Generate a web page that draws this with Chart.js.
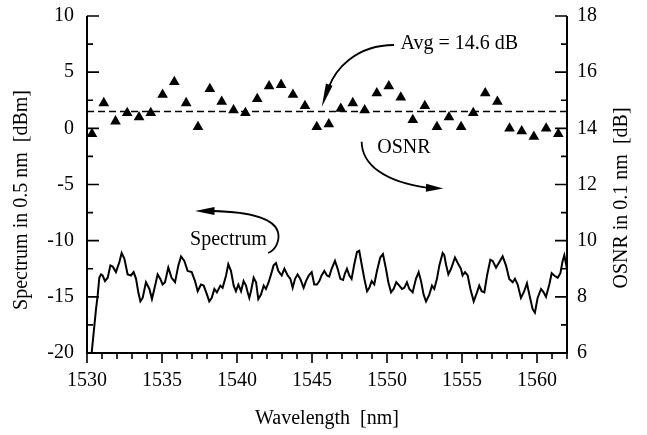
<!DOCTYPE html>
<html lang="en">
<head>
<meta charset="UTF-8">
<title>Spectrum and OSNR</title>
<script src="https://cdn.jsdelivr.net/npm/chart.js"></script>
<style>
  body { margin: 0; background: #fff; }
</style>
</head>
<body>
<canvas id="chart" width="647" height="435"></canvas>
<script>
// channel wavelengths (nm) and measured OSNR (dB, right axis)
const channelNm = [1530.33, 1531.12, 1531.90, 1532.68, 1533.47, 1534.25, 1535.04, 1535.82, 1536.61, 1537.40,
                   1538.19, 1538.98, 1539.77, 1540.56, 1541.35, 1542.14, 1542.94, 1543.73, 1544.53, 1545.32,
                   1546.12, 1546.92, 1547.72, 1548.51, 1549.32, 1550.12, 1550.92, 1551.72, 1552.52, 1553.33,
                   1554.13, 1554.94, 1555.75, 1556.55, 1557.36, 1558.17, 1558.98, 1559.79, 1560.61, 1561.42];
const osnrDb = [13.8, 14.9, 14.25, 14.55, 14.4, 14.55, 15.2, 15.65, 14.9, 14.05,
                15.4, 14.95, 14.65, 14.55, 15.05, 15.5, 15.55, 15.2, 14.8, 14.05,
                14.15, 14.7, 14.9, 14.65, 15.25, 15.5, 15.1, 14.3, 14.8, 14.05,
                14.4, 14.05, 14.55, 15.25, 14.95, 14.0, 13.9, 13.7, 14.0, 13.8];
const avgOsnr = 14.6;

// spectrum in 0.5 nm (dBm, left axis)
const specNm = [1530.31, 1530.60, 1530.71, 1530.82, 1530.93, 1531.04, 1531.20, 1531.38, 1531.56, 1531.71,
  1531.93, 1532.16, 1532.31, 1532.49, 1532.71, 1532.93, 1533.11, 1533.27, 1533.42, 1533.56,
  1533.71, 1533.93, 1534.16, 1534.33, 1534.49, 1534.71, 1534.89, 1535.04, 1535.20, 1535.42,
  1535.64, 1535.87, 1536.09, 1536.27, 1536.49, 1536.71, 1536.98, 1537.20, 1537.38, 1537.60,
  1537.78, 1538.00, 1538.15, 1538.31, 1538.49, 1538.66, 1538.89, 1539.04, 1539.27, 1539.42,
  1539.60, 1539.78, 1539.93, 1540.09, 1540.27, 1540.44, 1540.60, 1540.71, 1540.82, 1540.93,
  1541.11, 1541.27, 1541.42, 1541.60, 1541.78, 1541.93, 1542.11, 1542.27, 1542.44, 1542.60,
  1542.76, 1542.98, 1543.16, 1543.38, 1543.56, 1543.71, 1543.87, 1544.04, 1544.22, 1544.44,
  1544.60, 1544.78, 1544.98, 1545.15, 1545.33, 1545.49, 1545.64, 1545.82, 1546.00, 1546.15,
  1546.31, 1546.53, 1546.71, 1546.89, 1547.07, 1547.20, 1547.33, 1547.49, 1547.64, 1547.82,
  1548.00, 1548.15, 1548.31, 1548.49, 1548.67, 1548.82, 1548.98, 1549.15, 1549.33, 1549.55,
  1549.73, 1549.93, 1550.09, 1550.27, 1550.44, 1550.62, 1550.82, 1551.00, 1551.15, 1551.33,
  1551.49, 1551.71, 1551.93, 1552.11, 1552.27, 1552.44, 1552.60, 1552.82, 1553.00, 1553.15,
  1553.33, 1553.49, 1553.71, 1553.82, 1553.93, 1554.09, 1554.27, 1554.53, 1554.76, 1554.93,
  1555.04, 1555.20, 1555.38, 1555.56, 1555.78, 1556.00, 1556.15, 1556.31, 1556.49, 1556.67,
  1556.89, 1557.04, 1557.27, 1557.49, 1557.71, 1557.93, 1558.15, 1558.38, 1558.53, 1558.71,
  1558.93, 1559.15, 1559.33, 1559.49, 1559.71, 1559.86, 1560.04, 1560.27, 1560.44, 1560.60,
  1560.82, 1560.98, 1561.15, 1561.38, 1561.56, 1561.71, 1561.82, 1562.00];
const specDbm = [-20.0, -16.1, -14.9, -13.3, -13.0, -13.1, -13.6, -13.3, -12.2, -12.3,
  -12.8, -11.9, -11.1, -11.6, -13.0, -13.1, -12.8, -13.4, -14.6, -15.4,
  -15.1, -13.7, -14.3, -15.2, -14.3, -13.0, -13.4, -13.9, -13.7, -12.4,
  -13.3, -13.7, -12.2, -11.4, -11.8, -12.7, -12.8, -13.6, -14.5, -13.9,
  -14.0, -14.8, -15.4, -15.1, -14.3, -14.6, -14.0, -14.2, -13.1, -12.1,
  -12.7, -14.0, -14.5, -13.9, -14.5, -13.6, -14.0, -14.6, -15.1, -14.5,
  -13.3, -13.7, -15.2, -14.8, -14.0, -14.3, -13.7, -13.0, -12.2, -12.0,
  -12.7, -13.1, -12.5, -13.1, -13.4, -14.2, -13.4, -13.0, -13.4, -14.2,
  -13.6, -13.1, -12.8, -13.9, -13.9, -13.6, -13.1, -12.7, -13.1, -13.2,
  -12.5, -11.8, -12.5, -13.4, -13.5, -12.9, -12.5, -13.1, -13.4, -12.1,
  -11.0, -10.9, -12.1, -13.4, -14.5, -14.2, -13.6, -13.9, -12.7, -11.5,
  -11.2, -12.5, -13.7, -14.6, -14.3, -13.7, -14.0, -14.3, -14.2, -13.7,
  -14.3, -14.6, -13.4, -12.8, -13.6, -14.8, -15.4, -14.8, -14.0, -14.3,
  -13.4, -12.2, -11.1, -11.3, -12.1, -13.0, -12.5, -11.5, -12.1, -12.5,
  -13.1, -12.8, -13.1, -14.3, -15.4, -14.6, -14.0, -14.5, -14.6, -13.1,
  -11.7, -11.8, -12.4, -11.9, -11.4, -12.2, -13.4, -13.7, -13.4, -13.9,
  -15.1, -14.5, -13.8, -14.8, -16.1, -16.4, -15.1, -14.3, -14.6, -15.0,
  -13.9, -12.9, -13.1, -13.3, -12.9, -11.8, -11.3, -12.5];

const xTicks = [1530, 1535, 1540, 1545, 1550, 1555, 1560];
const yTicks = [-20, -15, -10, -5, 0, 5, 10];
const y2Ticks = [6, 8, 10, 12, 14, 16, 18];

const FONT = '"Liberation Serif", "Times New Roman", serif';
const tickFont = { family: FONT, size: 20 };

function arrowHead(ctx, fx, fy, tx, ty, half) {
  const ang = Math.atan2(ty - fy, tx - fx);
  const nx = -Math.sin(ang), ny = Math.cos(ang);
  ctx.beginPath();
  ctx.moveTo(tx, ty);
  ctx.lineTo(fx + nx * half, fy + ny * half);
  ctx.lineTo(fx - nx * half, fy - ny * half);
  ctx.closePath();
  ctx.fill();
}

// axes frame, inward ticks, titles and callouts
const decor = {
  id: 'decor',
  afterDraw(chart) {
    const { ctx, chartArea: a, scales } = chart;
    const X = v => scales.x.getPixelForValue(v);
    const Y = v => scales.y.getPixelForValue(v);
    const Y2 = v => scales.y2.getPixelForValue(v);
    ctx.save();
    ctx.strokeStyle = '#000';
    ctx.fillStyle = '#000';
    ctx.lineWidth = 2;
    ctx.beginPath();
    ctx.moveTo(a.left, a.top);
    ctx.lineTo(a.left, a.bottom);
    ctx.lineTo(a.right, a.bottom);
    ctx.lineTo(a.right, a.top);
    ctx.stroke();

    ctx.lineWidth = 1.6;
    ctx.beginPath();
    for (let v = 1530; v <= 1562; v++) {
      const len = v % 5 === 0 ? 10 : 6;
      ctx.moveTo(X(v), a.bottom);
      ctx.lineTo(X(v), a.bottom + len);
    }
    for (let v = -20; v <= 10; v += 2.5) {
      const len = v % 5 === 0 ? 12 : 6;
      ctx.moveTo(a.left, Y(v));
      ctx.lineTo(a.left + len, Y(v));
    }
    for (let v = 6; v <= 18; v++) {
      const len = v % 2 === 0 ? 12 : 6;
      ctx.moveTo(a.right, Y2(v));
      ctx.lineTo(a.right - len, Y2(v));
    }
    ctx.stroke();

    // axis titles
    ctx.font = '20px ' + FONT;
    ctx.textAlign = 'center';
    ctx.textBaseline = 'middle';
    ctx.fillText('Wavelength  [nm]', (a.left + a.right) / 2, 419);
    ctx.save();
    ctx.translate(22, 200);
    ctx.rotate(-Math.PI / 2);
    ctx.fillText('Spectrum in 0.5 nm  [dBm]', 0, 0);
    ctx.restore();
    ctx.save();
    ctx.translate(622, 198);
    ctx.rotate(-Math.PI / 2);
    ctx.fillText('OSNR in 0.1 nm  [dB]', 0, 0);
    ctx.restore();

    // callouts
    ctx.textAlign = 'left';
    ctx.fillText('Avg = 14.6 dB', X(1550.9), Y(7.5));
    ctx.fillText('OSNR', X(1549.35), Y(-1.75));
    ctx.fillText('Spectrum', X(1536.87), Y(-9.94));

    ctx.lineWidth = 1.8;
    // avg arrow
    ctx.beginPath();
    ctx.moveTo(X(1550.47), Y(7.42));
    ctx.bezierCurveTo(X(1547.87), Y(7.42), X(1546.53), Y(5.19), X(1546.1), Y(3.6));
    ctx.stroke();
    arrowHead(ctx, X(1546.15), Y(3.9), X(1545.65), Y(1.9), 3.5);
    // osnr arrow
    ctx.beginPath();
    ctx.moveTo(X(1548.31), Y(-1.19));
    ctx.bezierCurveTo(X(1548.33), Y(-3.26), X(1549.87), Y(-4.78), X(1552.73), Y(-5.31));
    ctx.stroke();
    arrowHead(ctx, X(1552.6), Y(-5.3), X(1553.75), Y(-5.36), 4);
    // spectrum arrow
    ctx.beginPath();
    ctx.moveTo(X(1542.07), Y(-11.10));
    ctx.bezierCurveTo(X(1542.6), Y(-10.83), X(1542.87), Y(-9.94), X(1542.73), Y(-9.23));
    ctx.bezierCurveTo(X(1542.47), Y(-7.98), X(1540.87), Y(-7.45), X(1538.4), Y(-7.36));
    ctx.stroke();
    arrowHead(ctx, X(1538.5), Y(-7.36), X(1537.2), Y(-7.36), 4);
    ctx.restore();
  }
};

const hidden = { display: false, drawTicks: false };
const plain = v => String(v);
const noPad = s => { s.paddingTop = 0; s.paddingBottom = 0; s.paddingLeft = 0; s.paddingRight = 0; };

new Chart(document.getElementById('chart'), {
  type: 'line',
  data: {
    datasets: [
      {
        label: 'Spectrum',
        data: specNm.map((x, i) => ({ x, y: specDbm[i] })),
        yAxisID: 'y',
        borderColor: '#000',
        borderWidth: 2,
        pointRadius: 0,
        tension: 0
      },
      {
        label: 'Avg',
        data: [{ x: 1530, y: avgOsnr }, { x: 1562, y: avgOsnr }],
        yAxisID: 'y2',
        borderColor: '#000',
        borderWidth: 1.6,
        borderDash: [7, 4],
        pointRadius: 0
      },
      {
        label: 'OSNR',
        data: channelNm.map((x, i) => ({ x, y: osnrDb[i] })),
        yAxisID: 'y2',
        showLine: false,
        pointStyle: 'triangle',
        pointRadius: 6.2,
        pointBackgroundColor: '#000',
        pointBorderWidth: 0
      }
    ]
  },
  options: {
    responsive: false,
    animation: false,
    layout: { autoPadding: false, padding: { top: 16, left: 0, right: 0, bottom: 0 } },
    plugins: { legend: { display: false }, tooltip: { enabled: false } },
    scales: {
      x: {
        type: 'linear', min: 1530, max: 1562,
        grid: hidden, border: { display: false },
        afterBuildTicks: s => { s.ticks = xTicks.map(v => ({ value: v })); },
        afterFit: s => { s.height = 82; noPad(s); },
        ticks: { font: tickFont, color: '#000', padding: 16, autoSkip: false, maxRotation: 0, callback: plain }
      },
      y: {
        position: 'left', min: -20, max: 10,
        grid: hidden, border: { display: false },
        afterBuildTicks: s => { s.ticks = yTicks.map(v => ({ value: v })); },
        afterFit: s => { s.width = 87; noPad(s); },
        ticks: { font: tickFont, color: '#000', padding: 13, autoSkip: false, callback: plain }
      },
      y2: {
        position: 'right', min: 6, max: 18,
        grid: hidden, border: { display: false },
        afterBuildTicks: s => { s.ticks = y2Ticks.map(v => ({ value: v })); },
        afterFit: s => { s.width = 80; noPad(s); },
        ticks: { font: tickFont, color: '#000', padding: 10, autoSkip: false, callback: plain }
      }
    }
  },
  plugins: [decor]
});
</script>
</body>
</html>
